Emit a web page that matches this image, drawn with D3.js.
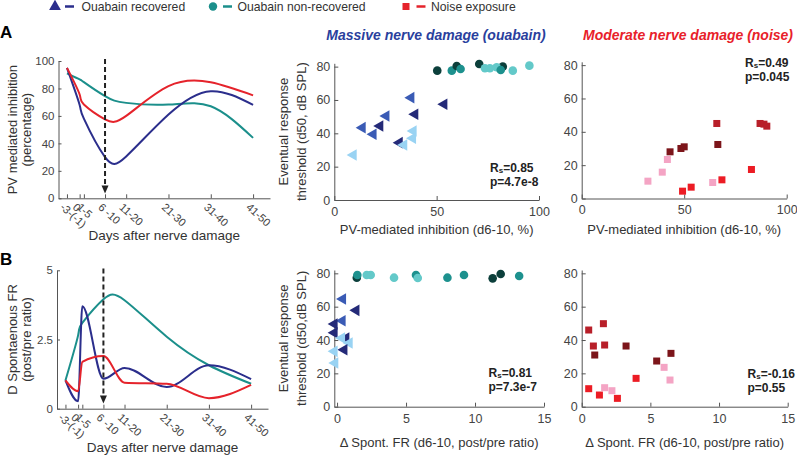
<!DOCTYPE html>
<html><head><meta charset="utf-8">
<script src="https://cdn.jsdelivr.net/npm/d3@7"></script>
<style>body{margin:0;background:#fff} svg{font-family:"Liberation Sans",Arial,sans-serif}</style>
</head><body><svg id="c" width="797" height="456"></svg>
<script>
// ---------- data ----------
const dayStarts = [-3, 0, 1, 6, 11, 21, 31, 41];
const dayLabels = ["-3-(-1)", "0", "1-5", "6 -10", "11-20", "21-30", "31-40", "41-50"];

const pvRecovered    = [95, 68, 58, 30, 30.5, 61, 78, 68];
const pvNonRecovered = [91, 86.6, 84.6, 74.4, 69.5, 68.3, 67, 44];
const pvNoise        = [95, 75.6, 68.3, 57.5, 60, 81.7, 84.5, 75];

const frRecovered    = [1.02, 0.27, 3.7, 1.08, 1.47, 0.78, 1.57, 1.07];
const frNonRecovered = [1.02, 2.65, 3.1, 3.95, 3.92, 2.6, 1.57, 0.9];
const frNoise        = [1.02, 0.63, 1.69, 1.9, 0.94, 0.9, 0.38, 0.86];

// scatter points: [x, threshold, shade]
const pvTriangles = [[37.5,61.4,1],[53.6,57.4,0],[25.3,50.4,1],[39.4,51.4,0],[13.7,43.4,1],[22.3,44.4,0],
  [19,39.4,1],[38.6,41.4,2],[38.3,37,2],[31.8,34.4,0],[34,33,2],[9.3,27,2]];
const pvCircles = [[50.3,77.6,0],[57.4,77.6,1],[59.8,80.4,0],[61.7,78.6,1],[70.8,81.6,0],[73.6,79,2],
  [76,79,2],[82.3,80,0],[79.3,79.6,2],[81.3,78,1],[87.2,77.6,2],[95.3,80.6,2]];
const pvSquares = [[43.1,28,0],[48.4,30,0],[50,31,0],[66.4,32.4,0],[65.9,45,1],[87,45,1],[88.9,44.6,1],[90.3,43.4,1],
  [49.2,4.4,2],[53.4,6.8,2],[68.4,11.2,2],[82.8,17.4,2],[32.3,10.4,3],[39.3,15.8,3],[41.8,23.4,3],[63.9,9.6,3]];

const frTriangles = [[0.41,64.6,1],[1.38,57.8,0],[0.38,51.6,1],[-0.2,49.6,0],[-0.2,44.4,0],[0.65,41.2,0],
  [0.34,41.2,2],[0.89,38.2,2],[0.51,34.2,0],[-0.2,33.2,2],[-0.15,26.2,2]];
const frCircles = [[1.43,77.4,0],[1.47,79,1],[2.15,79,2],[2.44,79,2],[4.13,77.4,2],[5.72,79,1],[5.85,77.2,2],
  [8.0,77.4,1],[9.2,79,1],[11.28,77,0],[11.86,79.6,0],[13.2,78.4,1]];
const frSquares = [[0.51,46,1],[1.58,49.8,1],[0.85,36.4,1],[1.67,37,1],[0.95,31,0],[3.23,36.4,0],[5.46,27.4,0],[6.5,32,0],
  [0.51,10.8,2],[1.29,7,2],[2.6,5,2],[3.96,17,2],[1.67,11.4,3],[2.2,9.6,3],[6.0,23.6,3],[6.43,16,3]];

const stats = [["0.85","4.7e-8"],["0.49","0.045"],["0.81","7.3e-7"],["-0.16","0.55"]];
const legendItems = ["Ouabain recovered", "Ouabain non-recovered", "Noise exposure"];

// ---------- styles ----------
const svg = d3.select("#c");
const AX = "#555", TX = "#444";
const lineCol = { rec: "#2b2e8c", non: "#1b8f8b", noise: "#e5232b" };
const triShades = ["#242a78", "#3a5bb5", "#99d3f3"];
const cirShades = ["#0c3f3b", "#1d918e", "#63c9c9"];
const sqShades  = ["#7c151a", "#b81f29", "#ec1c24", "#f4a4c4"];

function styleAxis(g, fs) {
  g.select(".domain").attr("stroke", AX).attr("stroke-width", 1);
  g.selectAll(".tick line").attr("stroke", AX);
  g.selectAll(".tick text").attr("fill", TX).attr("font-size", fs).attr("font-family", "Liberation Sans, Arial, sans-serif");
}

// ---------- legend ----------
const lg = svg.append("g");
lg.append("path").attr("d", d3.symbol(d3.symbolTriangle, 60)()).attr("transform", "translate(55,6.5)").attr("fill", lineCol.rec);
lg.append("circle").attr("cx", 213).attr("cy", 6.5).attr("r", 4.2).attr("fill", lineCol.non);
lg.append("rect").attr("x", 402.5).attr("y", 3).attr("width", 7).attr("height", 7).attr("fill", lineCol.noise);
[[65, lineCol.rec, 81.5], [223, lineCol.non, 237.5], [416.5, lineCol.noise, 431]].forEach((d, i) => {
  lg.append("line").attr("x1", d[0]).attr("x2", d[0] + 9).attr("y1", 6.5).attr("y2", 6.5).attr("stroke", d[1]).attr("stroke-width", 2.5);
  lg.append("text").attr("x", d[2]).attr("y", 10.8).attr("font-size", 12.2).attr("fill", "#333").text(legendItems[i]);
});

// panel letters
svg.append("text").attr("x", 0).attr("y", 38).attr("font-size", 17).attr("font-weight", "bold").text("A");
svg.append("text").attr("x", 0).attr("y", 265).attr("font-size", 17).attr("font-weight", "bold").text("B");

// titles
svg.append("text").attr("x", 436).attr("y", 40).attr("text-anchor", "middle").attr("font-size", 14)
  .attr("font-weight", "bold").attr("font-style", "italic").attr("fill", "#2a3f9d").text("Massive nerve damage (ouabain)");
svg.append("text").attr("x", 688).attr("y", 40).attr("text-anchor", "middle").attr("font-size", 14)
  .attr("font-weight", "bold").attr("font-style", "italic").attr("fill", "#e8212a").text("Moderate nerve damage (noise)");

// ---------- line charts ----------
function lineChart(cfg) {
  const x = d3.scaleLinear().domain([-5, 45]).range(cfg.xr);
  const y = d3.scaleLinear().domain(cfg.yd).range(cfg.yr);
  const g = svg.append("g");
  g.append("g").attr("transform", `translate(${cfg.xr[0]},0)`)
    .call(d3.axisLeft(y).tickValues(cfg.yt).tickFormat(d => String(d)).tickSizeInner(-3).tickSizeOuter(0).tickPadding(4))
    .call(a => styleAxis(a, 11.5));
  g.append("g").attr("transform", `translate(0,${cfg.yr[0]})`)
    .call(d3.axisBottom(x).tickValues(dayStarts).tickFormat("").tickSizeInner(-4).tickSizeOuter(0))
    .call(a => styleAxis(a, 11));
  g.selectAll(".dl").data(dayStarts).join("text")
    .attr("transform", d => `translate(${x(d) - 5},${cfg.yr[0] + 7}) rotate(42)`)
    .attr("dy", "0.35em").attr("font-size", 11).attr("fill", TX)
    .text((d, i) => dayLabels[i]);
  const series = [[cfg.non, lineCol.non, cfg.curveNon], [cfg.rec, lineCol.rec, cfg.curve], [cfg.noise, lineCol.noise, cfg.curve]];
  series.forEach(([vals, col, curve]) => {
    g.append("path").datum(vals)
      .attr("d", d3.line().x((d, i) => x(dayStarts[i])).y(d => y(d)).curve(curve))
      .attr("fill", "none").attr("stroke", col).attr("stroke-width", 2);
  });
  // dashed marker at day 6
  const xd = x(6);
  g.append("line").attr("x1", xd).attr("x2", xd).attr("y1", cfg.dashTop).attr("y2", cfg.dashTip - 6)
    .attr("stroke", "#222").attr("stroke-width", 2).attr("stroke-dasharray", "5,3");
  g.append("path").attr("d", `M${xd - 3.5},${cfg.dashTip - 8}L${xd + 3.5},${cfg.dashTip - 8}L${xd},${cfg.dashTip}Z`).attr("fill", "#222");
  // labels
  cfg.ylab.forEach((t, i) => {
    g.append("text").attr("transform", `translate(${[16.5, 31][i]},${(cfg.yr[0] + cfg.yr[1]) / 2}) rotate(-90)`)
      .attr("text-anchor", "middle").attr("font-size", 13).attr("fill", "#333").text(t);
  });
  g.append("text").attr("x", (cfg.xr[0] + cfg.xr[1]) / 2).attr("y", cfg.xlabY).attr("text-anchor", "middle")
    .attr("font-size", 13.5).attr("fill", "#333").text("Days after nerve damage");
}

lineChart({ xr: [58.5, 270], yr: [198.3, 61], yd: [0, 100], yt: [0, 20, 40, 60, 80, 100],
  rec: pvRecovered, non: pvNonRecovered, noise: pvNoise, curve: d3.curveNatural, curveNon: d3.curveNatural,
  dashTop: 59, dashTip: 193.5, ylab: ["PV mediated inhibition", "(percentage)"], xlabY: 239.5 });
lineChart({ xr: [57, 268], yr: [408.7, 270.3], yd: [0, 5], yt: [0, 2.5, 5],
  rec: frRecovered, non: frNonRecovered, noise: frNoise, curve: d3.curveMonotoneX, curveNon: d3.curveNatural,
  dashTop: 268.5, dashTip: 403.5, ylab: ["D Spontaenous FR", "(post/pre ratio)"], xlabY: 451.5 });

// ---------- scatter charts ----------
function scatter(cfg) {
  const x = d3.scaleLinear().domain(cfg.xd).range(cfg.xr);
  const y = d3.scaleLinear().domain([0, 82]).range(cfg.yr);
  const g = svg.append("g");
  g.append("g").attr("transform", `translate(0,${cfg.yr[0]})`)
    .call(d3.axisBottom(x).tickValues(cfg.xt).tickSizeInner(-4).tickSizeOuter(0).tickPadding(7))
    .call(a => styleAxis(a, 12.5));
  g.append("g").attr("transform", `translate(${cfg.xr[0]},0)`)
    .call(d3.axisLeft(y).tickValues([0, 20, 40, 60, 80]).tickSizeInner(-4).tickSizeOuter(0).tickPadding(4))
    .call(a => styleAxis(a, 12.5));
  if (cfg.tri) {
    g.selectAll(".ci").data(cfg.cir).join("circle")
      .attr("cx", d => x(d[0])).attr("cy", d => y(d[1])).attr("r", 4.3).attr("fill", d => cirShades[d[2]]);
    g.selectAll(".tr").data(cfg.tri).join("path")
      .attr("d", d3.symbol(d3.symbolTriangle, 58)())
      .attr("transform", d => `translate(${x(d[0])},${y(d[1])}) rotate(-90)`)
      .attr("fill", d => triShades[d[2]]);
  }
  if (cfg.sq) {
    g.selectAll(".sq").data(cfg.sq).join("rect")
      .attr("x", d => x(d[0]) - 3.5).attr("y", d => y(d[1]) - 3.5).attr("width", 7).attr("height", 7)
      .attr("fill", d => sqShades[d[2]]);
  }
  if (cfg.ylab) {
    cfg.ylab.forEach((t, i) => {
      g.append("text").attr("transform", `translate(${cfg.xr[0] - [46.5, 28][i]},${(cfg.yr[0] + cfg.yr[1]) / 2}) rotate(-90)`)
        .attr("text-anchor", "middle").attr("font-size", 13).attr("fill", "#333").text(t);
    });
  }
  g.append("text").attr("x", (cfg.xr[0] + cfg.xr[1]) / 2).attr("y", cfg.xlabY).attr("text-anchor", "middle")
    .attr("font-size", 13).attr("fill", "#333").text(cfg.xlab);
  const st = g.append("g").attr("font-size", 12).attr("font-weight", "bold").attr("fill", "#222");
  const t1 = st.append("text").attr("x", cfg.sx).attr("y", cfg.sy);
  t1.append("tspan").text("R");
  t1.append("tspan").attr("font-size", 8).attr("dy", 1.5).text("s");
  t1.append("tspan").attr("dy", -1.5).text("=" + cfg.stat[0]);
  st.append("text").attr("x", cfg.sx).attr("y", cfg.sy + 14).text("p=" + cfg.stat[1]);
}

scatter({ xd: [0, 100], xr: [334.3, 539], yr: [200, 63.3], xt: [0, 50, 100], tri: pvTriangles, cir: pvCircles,
  ylab: ["Eventual response", "threshold (d50, dB SPL)"], xlab: "PV-mediated inhibition (d6-10, %)", xlabY: 234,
  stat: stats[0], sx: 490, sy: 171.5 });
scatter({ xd: [0, 100], xr: [581.7, 786.7], yr: [198.5, 61.8], xt: [0, 50, 100], sq: pvSquares,
  xlab: "PV-mediated inhibition (d6-10, %)", xlabY: 234, stat: stats[1], sx: 745, sy: 66.5 });
scatter({ xd: [-0.2, 15], xr: [334.3, 544], yr: [406.7, 270], xt: [0, 5, 10, 15], tri: frTriangles, cir: frCircles,
  ylab: ["Eventual response", "threshold (d50,dB SPL)"], xlab: "\u0394 Spont. FR (d6-10, post/pre ratio)", xlabY: 447,
  stat: stats[2], sx: 488.5, sy: 376.5 });
scatter({ xd: [0, 15], xr: [581.7, 787.7], yr: [406.7, 270], xt: [0, 5, 10, 15], sq: frSquares,
  xlab: "\u0394 Spont. FR (d6-10, post/pre ratio)", xlabY: 447, stat: stats[3], sx: 747.5, sy: 377.5 });
</script></body></html>
